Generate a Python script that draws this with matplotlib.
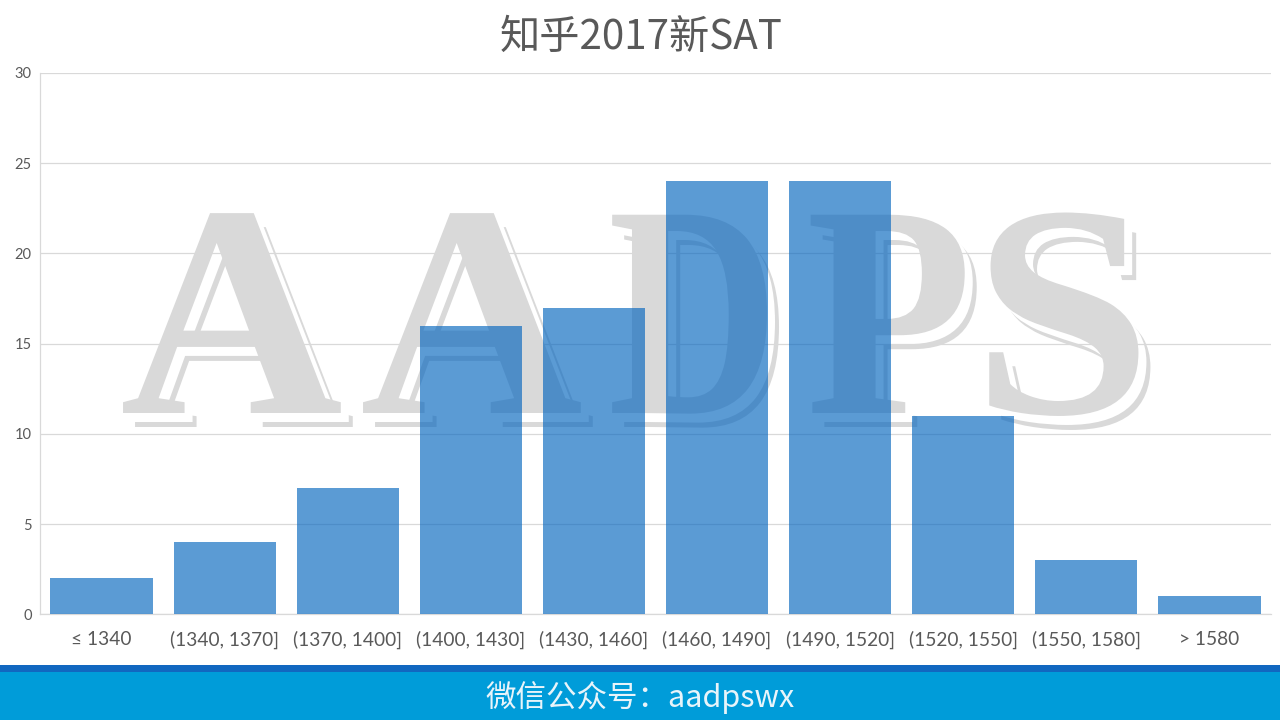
import matplotlib
matplotlib.use("Agg")
import matplotlib.pyplot as plt
from matplotlib.patches import Rectangle
from matplotlib.patheffects import AbstractPathEffect
from matplotlib.transforms import Affine2D

categories = ["≤ 1340", "(1340, 1370]", "(1370, 1400]", "(1400, 1430]", "(1430, 1460]",
              "(1460, 1490]", "(1490, 1520]", "(1520, 1550]", "(1550, 1580]", "> 1580"]
counts = [2, 4, 7, 16, 17, 24, 24, 11, 3, 1]
yticks = [0, 5, 10, 15, 20, 25, 30]
title = "知乎2017新SAT"
footer = "微信公众号：aadpswx"
mark_letters = ["A", "A", "D", "P", "S"]
mark_x_px = [120, 360, 608, 806, 972]
mark_stretch = [1.02, 1.02, 0.78, 0.9, 1.07]

W, H = 1280, 720


class StretchX(AbstractPathEffect):
    """Narrow or widen a glyph horizontally about its own left edge."""
    def __init__(self, x0, sx):
        super().__init__()
        self.x0, self.sx = x0, sx

    def draw_path(self, renderer, gc, tpath, affine, rgbFace=None):
        a = affine + Affine2D().translate(-self.x0, 0).scale(self.sx, 1).translate(self.x0, 0)
        renderer.draw_path(gc, tpath, a, rgbFace)


fig = plt.figure(figsize=(12.8, 7.2), dpi=100, facecolor="white")
ax = fig.add_axes([40/W, 1-614.4/H, 1231/W, 541.4/H])
ax.set_xlim(-0.5, 9.5)
ax.set_ylim(0, 30)
ax.set_yticks(yticks)
ax.set_xticks(range(len(categories)))
ax.set_xticklabels(categories, fontfamily="Lato", fontsize=13.8, color="#595959")
ax.tick_params(axis="both", length=0)
ax.tick_params(axis="x", pad=12)
ax.tick_params(axis="y", pad=6)
for t in ax.get_yticklabels():
    t.set_fontfamily("Lato"); t.set_fontsize(10.5); t.set_color("#595959")
ax.grid(axis="y", color="#D9D9D9", lw=0.9, zorder=2)
ax.set_axisbelow(False)
for s in ["top", "right"]:
    ax.spines[s].set_visible(False)
for s in ["left", "bottom"]:
    ax.spines[s].set_color("#D9D9D9"); ax.spines[s].set_linewidth(0.9)


def mark(dx, dy, color, z):
    for ch, x, sx in zip(mark_letters, mark_x_px, mark_stretch):
        fig.text((x+dx)/W, 1-(413+dy)/H, ch, fontsize=218, family="Liberation Serif",
                 weight="bold", color=color, va="baseline", ha="left", zorder=z,
                 path_effects=[StretchX(x+dx, sx)])


ax.patch.set_alpha(0)
fig.patch.set_zorder(-5)
mark(12, 14, "#D9D9D9", -4)
mark(8, 9, "white", -3)
mark(0, 0, "#D9D9D9", -2)
ax.set_zorder(1)

ax.bar(range(len(counts)), counts, width=0.83, color=(3/255, 101/255, 190/255), alpha=0.65, zorder=3)

fig.text(641/W, 1-37/H, title, ha="center", va="center", fontsize=29, color="#595959",
         family=["Noto Sans CJK SC", "DejaVu Sans"])
fig.add_artist(Rectangle((0, 0), 1, 48/H, transform=fig.transFigure, color="#009CD9", lw=0))
fig.add_artist(Rectangle((0, 48/H), 1, 7/H, transform=fig.transFigure, color="#1167C0", lw=0))
fig.text(640/W, 1-698/H, footer, ha="center", va="center", fontsize=22, color="#E8F4FA",
         family=["Noto Sans CJK SC", "DejaVu Sans"])
fig.savefig("out.png", dpi=100)
